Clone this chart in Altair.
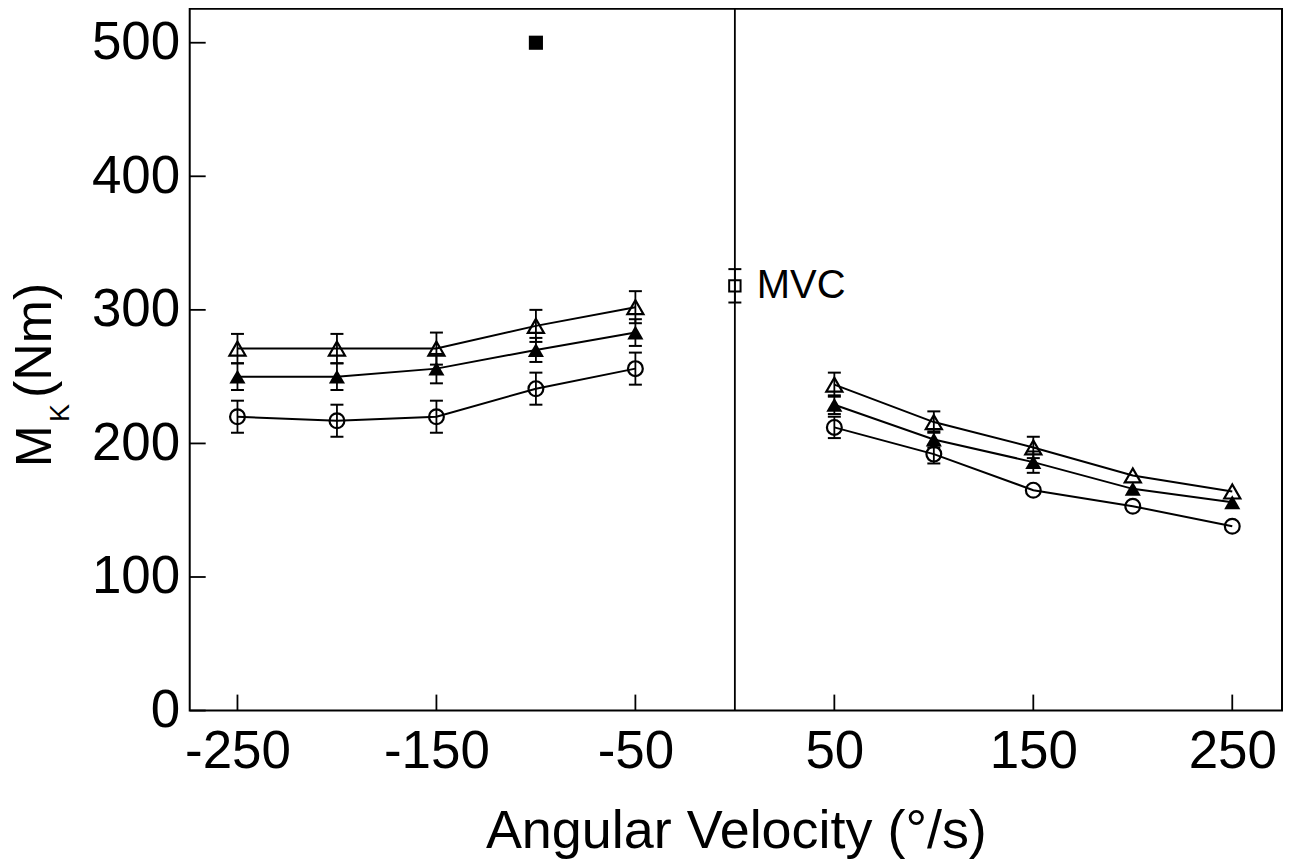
import altair as alt
import pandas as pd

# ---------------- data ----------------
vel_neg = [-250, -200, -150, -100, -50]
vel_pos = [50, 100, 150, 200, 250]

open_tri_neg = [271, 271, 271, 288, 302]
open_tri_neg_err = [11, 11, 12, 12, 12]
filled_tri_neg = [250, 250, 256, 270, 283]
filled_tri_neg_err = [10, 10, 11, 9, 10]
circle_neg = [220, 217, 220, 241, 256]
circle_neg_err = [12, 12, 12, 12, 12]

open_tri_pos = [244, 216, 197, 176, 164]
open_tri_pos_err = [9, 8, 8, None, None]
filled_tri_pos = [229, 203, 186, 166, 156]
filled_tri_pos_err = [7, 6, 8, None, None]
circle_pos = [212, 192, 165, 153, 138]
circle_pos_err = [8, 7, None, None, None]

mvc_x = [0]
mvc_y = [318]
mvc_err = [12.5]
mvc_label = ["MVC"]

extra_x = [-100]
extra_y = [500]

zero_x = [0]
x_ticks = [-250, -150, -50, 50, 150, 250]
y_ticks = [0, 100, 200, 300, 400, 500]

# ---------------- tables ----------------
rows = []
def add(series, side, xs, ys, errs):
    for x, y, e in zip(xs, ys, errs):
        rows.append({"series": series, "grp": series + side, "x": x, "y": y,
                     "err": e, "lo": None if e is None else y - e,
                     "hi": None if e is None else y + e})

add("open_tri", "neg", vel_neg, open_tri_neg, open_tri_neg_err)
add("filled_tri", "neg", vel_neg, filled_tri_neg, filled_tri_neg_err)
add("circle", "neg", vel_neg, circle_neg, circle_neg_err)
add("open_tri", "pos", vel_pos, open_tri_pos, open_tri_pos_err)
add("filled_tri", "pos", vel_pos, filled_tri_pos, filled_tri_pos_err)
add("circle", "pos", vel_pos, circle_pos, circle_pos_err)
df = pd.DataFrame(rows)

mvc = pd.DataFrame({"x": mvc_x, "y": mvc_y, "label": mvc_label,
                    "lo": [y - e for y, e in zip(mvc_y, mvc_err)],
                    "hi": [y + e for y, e in zip(mvc_y, mvc_err)]})
err_df = pd.concat([df.dropna(subset=["err"])[["x", "lo", "hi"]], mvc[["x", "lo", "hi"]]],
                   ignore_index=True)
caps = pd.concat([err_df[["x"]].assign(y=err_df["lo"]), err_df[["x"]].assign(y=err_df["hi"])],
                 ignore_index=True)

W, H = 1094, 703
FONT = "Liberation Sans"

xs = alt.Scale(domain=[-274, 275], nice=False, zero=False)
ys = alt.Scale(domain=[0, 525.5], nice=False, zero=False)

X = alt.X("x:Q", scale=xs,
          axis=alt.Axis(values=x_ticks, grid=False, ticks=False, tickSize=0, domain=False,
                        labelFontSize=53, labelPadding=15, labelColor="black",
                        labelExpr="'' + datum.value",
                        title="Angular Velocity (°/s)", titleFontSize=54,
                        titleFontWeight="normal", titleColor="black", titlePadding=26,
                        labelFlush=False, labelOverlap=False))
Y = alt.Y("y:Q", scale=ys,
          axis=alt.Axis(values=y_ticks, grid=False, ticks=False, tickSize=0, domain=False,
                        labelFontSize=53, labelPadding=10, labelColor="black",
                        labelExpr="'' + datum.value",
                        title="", labelFlush=False, labelOverlap=False))

lines = alt.Chart(df).mark_line(color="black", strokeWidth=2).encode(
    x=X, y=Y, detail="grp:N", order="x:Q")

stems = alt.Chart(err_df).mark_rule(color="black", strokeWidth=1.8, opacity=1).encode(
    x=alt.X("x:Q", scale=xs), y=alt.Y("lo:Q", scale=ys), y2="hi:Q")
capm = alt.Chart(caps).mark_tick(orient="horizontal", color="black", size=13,
                                 thickness=2, opacity=1).encode(
    x=alt.X("x:Q", scale=xs), y=alt.Y("y:Q", scale=ys))

def pts(series, shape, filled, size):
    return alt.Chart(df).transform_filter(alt.datum.series == series).mark_point(
        shape=shape, filled=filled, color="black", size=size,
        strokeWidth=2.2, opacity=1).encode(
        x=alt.X("x:Q", scale=xs), y=alt.Y("y:Q", scale=ys))

p_open = pts("open_tri", "triangle-up", False, 260)
p_fill = pts("filled_tri", "triangle-up", True, 260)
p_circ = pts("circle", "circle", False, 220)

mvc_pt = alt.Chart(mvc).mark_point(shape="square", filled=False, color="black",
                                   size=130, strokeWidth=2, opacity=1).encode(
    x=alt.X("x:Q", scale=xs), y=alt.Y("y:Q", scale=ys))
mvc_txt = alt.Chart(mvc).mark_text(align="left", baseline="middle", dx=22, fontSize=40,
                                   font=FONT, color="black").encode(
    x=alt.X("x:Q", scale=xs), y=alt.Y("y:Q", scale=ys), text="label:N")

extra = alt.Chart(pd.DataFrame({"x": extra_x, "y": extra_y})).mark_point(
    shape="square", filled=True, color="black", size=200, opacity=1).encode(
    x=alt.X("x:Q", scale=xs), y=alt.Y("y:Q", scale=ys))

zero_line = alt.Chart(pd.DataFrame({"x": zero_x})).mark_rule(
    color="black", strokeWidth=1.8).encode(x=alt.X("x:Q", scale=xs))

xtick_m = alt.Chart(pd.DataFrame({"x": x_ticks})).mark_rule(
    color="black", strokeWidth=1.8).encode(
    x=alt.X("x:Q", scale=xs), y=alt.value(H), y2=alt.value(H - 16))
ytick_m = alt.Chart(pd.DataFrame({"y": y_ticks})).mark_rule(
    color="black", strokeWidth=1.8).encode(
    y=alt.Y("y:Q", scale=ys), x=alt.value(0), x2=alt.value(16))

# y-axis title "M_K (Nm)" built from text pieces (subscript K)
ytitle_df = pd.DataFrame({"t": ["M"]})
yt_m = alt.Chart(ytitle_df).mark_text(
    text="M", angle=270, align="left", baseline="alphabetic", fontSize=50,
    font=FONT, color="black").encode(x=alt.value(-139), y=alt.value(459))
yt_k = alt.Chart(ytitle_df).mark_text(
    text="K", angle=270, align="left", baseline="alphabetic", fontSize=27,
    font=FONT, color="black").encode(x=alt.value(-121), y=alt.value(414))
yt_nm = alt.Chart(ytitle_df).mark_text(
    text="(Nm)", angle=270, align="left", baseline="alphabetic", fontSize=52,
    font=FONT, color="black").encode(x=alt.value(-139), y=alt.value(390))

chart = alt.layer(
    lines, zero_line, xtick_m, ytick_m, stems, capm, p_open, p_fill, p_circ,
    mvc_pt, mvc_txt, extra, yt_m, yt_k, yt_nm
).properties(
    width=W, height=H,
    autosize=alt.AutoSizeParams(type="none"),
    padding={"left": 182, "top": 0, "right": 5, "bottom": 150},
    background="white",
).configure(
    font=FONT,
    view=alt.ViewConfig(stroke="black", strokeWidth=2),
)

chart.save("out.html", embed_options={"renderer": "svg", "actions": False})
